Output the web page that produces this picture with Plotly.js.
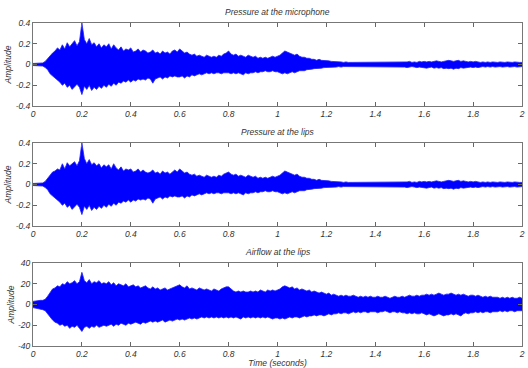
<!DOCTYPE html>
<html>
<head>
<meta charset="utf-8">
<script src="https://cdn.plot.ly/plotly-3.0.1.min.js"></script>
<style>html,body{margin:0;padding:0;background:#fff}#chart{width:528px;height:368px}</style>
</head>
<body>
<div id="chart"></div>
<script>
// Sample spacing of the envelope readings (seconds)
const timeStep = 0.01;

// Pressure at the microphone: upper / lower envelope, t = 0.00 ... 2.00 s
const micUpper = [
0.01,0.01,0.01,0.01,0.015,0.03,0.06,0.09,0.11,0.13,
0.16,0.14,0.19,0.15,0.21,0.17,0.2,0.23,0.18,0.22,
0.4,0.24,0.2,0.25,0.19,0.21,0.17,0.2,0.16,0.19,
0.17,0.2,0.15,0.19,0.16,0.14,0.17,0.13,0.15,0.14,
0.16,0.12,0.13,0.15,0.12,0.14,0.13,0.11,0.12,0.14,
0.11,0.12,0.1,0.13,0.11,0.12,0.1,0.13,0.14,0.12,
0.15,0.13,0.11,0.12,0.1,0.09,0.1,0.08,0.09,0.08,
0.07,0.09,0.08,0.07,0.08,0.07,0.09,0.08,0.1,0.11,
0.13,0.1,0.09,0.1,0.08,0.09,0.08,0.07,0.09,0.08,
0.07,0.08,0.06,0.07,0.06,0.07,0.06,0.07,0.08,0.07,
0.08,0.09,0.11,0.13,0.12,0.11,0.1,0.09,0.1,0.08,
0.07,0.07,0.06,0.06,0.05,0.05,0.04,0.05,0.04,0.04,
0.04,0.035,0.03,0.03,0.025,0.03,0.025,0.02,0.025,0.02,
0.02,0.025,0.02,0.02,0.025,0.02,0.02,0.025,0.02,0.02,
0.02,0.02,0.025,0.02,0.02,0.025,0.02,0.02,0.025,0.02,
0.025,0.02,0.02,0.025,0.03,0.02,0.025,0.02,0.03,0.025,
0.03,0.025,0.03,0.025,0.03,0.035,0.03,0.025,0.03,0.035,
0.04,0.035,0.03,0.035,0.04,0.03,0.035,0.03,0.025,0.03,
0.025,0.03,0.025,0.02,0.025,0.02,0.025,0.02,0.025,0.02,
0.02,0.025,0.02,0.02,0.025,0.02,0.02,0.025,0.02,0.02,
0.02];
const micLower = [
-0.01,-0.01,-0.01,-0.01,-0.015,-0.03,-0.05,-0.09,-0.11,-0.13,
-0.15,-0.17,-0.2,-0.18,-0.22,-0.2,-0.24,-0.21,-0.19,-0.22,
-0.29,-0.21,-0.24,-0.2,-0.25,-0.22,-0.24,-0.21,-0.23,-0.2,
-0.22,-0.19,-0.21,-0.18,-0.2,-0.17,-0.18,-0.16,-0.17,-0.15,
-0.17,-0.15,-0.16,-0.14,-0.15,-0.14,-0.15,-0.13,-0.14,-0.18,
-0.14,-0.13,-0.12,-0.14,-0.12,-0.13,-0.11,-0.12,-0.11,-0.12,
-0.12,-0.11,-0.13,-0.11,-0.12,-0.1,-0.11,-0.1,-0.09,-0.1,
-0.09,-0.08,-0.09,-0.08,-0.09,-0.08,-0.08,-0.09,-0.08,-0.08,
-0.08,-0.09,-0.08,-0.09,-0.08,-0.09,-0.1,-0.08,-0.09,-0.08,
-0.08,-0.07,-0.08,-0.07,-0.07,-0.06,-0.07,-0.07,-0.06,-0.07,
-0.07,-0.08,-0.09,-0.08,-0.09,-0.08,-0.07,-0.08,-0.07,-0.06,
-0.06,-0.06,-0.05,-0.05,-0.045,-0.04,-0.04,-0.035,-0.035,-0.03,
-0.03,-0.03,-0.025,-0.025,-0.025,-0.02,-0.025,-0.02,-0.02,-0.025,
-0.02,-0.02,-0.025,-0.02,-0.02,-0.025,-0.02,-0.02,-0.025,-0.02,
-0.02,-0.025,-0.02,-0.02,-0.025,-0.02,-0.02,-0.025,-0.02,-0.02,
-0.025,-0.02,-0.025,-0.03,-0.025,-0.02,-0.025,-0.03,-0.025,-0.03,
-0.03,-0.035,-0.03,-0.025,-0.035,-0.03,-0.035,-0.03,-0.04,-0.035,
-0.04,-0.035,-0.045,-0.035,-0.04,-0.03,-0.035,-0.03,-0.03,-0.025,
-0.03,-0.025,-0.03,-0.025,-0.02,-0.025,-0.02,-0.025,-0.02,-0.025,
-0.02,-0.02,-0.025,-0.02,-0.02,-0.025,-0.02,-0.02,-0.025,-0.02,
-0.02];

// Pressure at the lips
const lipsUpper = [
0.01,0.01,0.01,0.01,0.015,0.03,0.06,0.09,0.12,0.13,
0.15,0.14,0.2,0.15,0.21,0.18,0.2,0.22,0.18,0.23,
0.4,0.25,0.2,0.24,0.19,0.21,0.18,0.2,0.16,0.19,
0.17,0.19,0.15,0.2,0.16,0.14,0.17,0.13,0.15,0.14,
0.15,0.12,0.13,0.15,0.12,0.14,0.12,0.11,0.12,0.14,
0.11,0.12,0.1,0.13,0.11,0.12,0.1,0.12,0.14,0.12,
0.15,0.13,0.11,0.12,0.1,0.09,0.1,0.08,0.09,0.08,
0.07,0.09,0.08,0.07,0.08,0.07,0.09,0.08,0.1,0.11,
0.12,0.1,0.09,0.1,0.08,0.09,0.08,0.07,0.09,0.08,
0.07,0.08,0.06,0.07,0.06,0.07,0.06,0.07,0.08,0.07,
0.08,0.09,0.11,0.13,0.12,0.11,0.1,0.09,0.1,0.08,
0.07,0.07,0.06,0.06,0.05,0.05,0.04,0.05,0.04,0.04,
0.04,0.035,0.03,0.03,0.025,0.03,0.025,0.02,0.025,0.02,
0.02,0.025,0.02,0.02,0.025,0.02,0.02,0.025,0.02,0.02,
0.02,0.02,0.025,0.02,0.02,0.025,0.02,0.02,0.025,0.02,
0.025,0.02,0.02,0.025,0.03,0.02,0.025,0.02,0.03,0.025,
0.03,0.025,0.03,0.025,0.03,0.035,0.03,0.025,0.03,0.035,
0.04,0.035,0.03,0.035,0.04,0.03,0.035,0.03,0.025,0.03,
0.025,0.03,0.025,0.02,0.025,0.02,0.025,0.02,0.025,0.02,
0.02,0.025,0.02,0.02,0.025,0.02,0.02,0.025,0.02,0.02,
0.02];
const lipsLower = [
-0.01,-0.01,-0.01,-0.01,-0.015,-0.03,-0.05,-0.09,-0.11,-0.13,
-0.15,-0.17,-0.2,-0.18,-0.22,-0.2,-0.24,-0.21,-0.19,-0.22,
-0.29,-0.21,-0.24,-0.2,-0.25,-0.22,-0.24,-0.21,-0.23,-0.2,
-0.22,-0.19,-0.21,-0.18,-0.2,-0.17,-0.18,-0.16,-0.17,-0.15,
-0.17,-0.15,-0.16,-0.14,-0.15,-0.14,-0.15,-0.13,-0.14,-0.18,
-0.14,-0.13,-0.12,-0.14,-0.12,-0.13,-0.11,-0.12,-0.11,-0.12,
-0.12,-0.11,-0.13,-0.11,-0.12,-0.1,-0.11,-0.1,-0.09,-0.1,
-0.09,-0.08,-0.09,-0.08,-0.09,-0.08,-0.08,-0.09,-0.08,-0.08,
-0.08,-0.09,-0.08,-0.09,-0.08,-0.09,-0.1,-0.08,-0.09,-0.08,
-0.08,-0.07,-0.08,-0.07,-0.07,-0.06,-0.07,-0.07,-0.06,-0.07,
-0.07,-0.08,-0.09,-0.08,-0.09,-0.08,-0.07,-0.08,-0.07,-0.06,
-0.06,-0.06,-0.05,-0.05,-0.045,-0.04,-0.04,-0.035,-0.035,-0.03,
-0.03,-0.03,-0.025,-0.025,-0.025,-0.02,-0.025,-0.02,-0.02,-0.025,
-0.02,-0.02,-0.025,-0.02,-0.02,-0.025,-0.02,-0.02,-0.025,-0.02,
-0.02,-0.025,-0.02,-0.02,-0.025,-0.02,-0.02,-0.025,-0.02,-0.02,
-0.025,-0.02,-0.025,-0.03,-0.025,-0.02,-0.025,-0.03,-0.025,-0.03,
-0.03,-0.035,-0.03,-0.025,-0.035,-0.03,-0.035,-0.03,-0.04,-0.035,
-0.04,-0.035,-0.045,-0.035,-0.04,-0.03,-0.035,-0.03,-0.03,-0.025,
-0.03,-0.025,-0.03,-0.025,-0.02,-0.025,-0.02,-0.025,-0.02,-0.025,
-0.02,-0.02,-0.025,-0.02,-0.02,-0.025,-0.02,-0.02,-0.025,-0.02,
-0.02];

// Airflow at the lips
const flowUpper = [
3,3.5,4,4,4,5,8,12,15,16,
18,17,20,19,22,20,21,23,20,22,
31,23,21,24,20,22,21,23,20,21,
20,22,19,21,18,20,19,18,20,17,
18,19,17,18,16,17,18,16,15,17,
15,16,14,15,16,14,15,16,17,18,
19,17,16,18,15,16,15,14,16,15,
14,15,14,13,15,14,13,15,16,17,
17,15,13,12,13,12,13,12,12,13,
12,13,12,14,13,12,14,13,14,13,
14,15,17,18,17,16,17,15,16,14,
15,14,13,14,12,13,12,11,12,11,
10,11,9,10,9,8,9,8,9,8,
8,9,8,7,8,7,8,7,8,7,
7,8,7,7,8,7,6,7,8,7,
7,8,7,8,9,8,8,9,8,9,
9,10,9,10,9,10,11,10,9,10,
10,11,10,9,10,9,10,9,8,9,
9,8,9,8,7,8,7,8,7,7,
7,6,7,6,7,6,7,6,6,7,
6];
const flowLower = [
-3,-3.5,-4,-4,-5,-6,-9,-13,-15,-17,
-18,-20,-19,-21,-20,-23,-21,-22,-20,-23,
-26,-22,-21,-23,-21,-22,-20,-22,-21,-20,
-21,-20,-19,-21,-19,-20,-18,-19,-20,-18,
-19,-18,-17,-18,-19,-17,-18,-17,-16,-17,
-16,-17,-16,-15,-17,-16,-15,-16,-15,-14,
-15,-14,-15,-14,-13,-14,-13,-14,-13,-12,
-13,-12,-13,-12,-13,-12,-13,-12,-13,-12,
-13,-12,-13,-12,-13,-14,-12,-13,-12,-13,
-12,-13,-12,-13,-12,-13,-12,-13,-14,-13,
-13,-14,-13,-14,-13,-12,-13,-12,-12,-13,
-12,-11,-12,-11,-11,-10,-11,-10,-10,-11,
-10,-9,-10,-9,-9,-8,-9,-8,-8,-9,
-8,-7,-8,-7,-8,-7,-7,-8,-7,-7,
-7,-8,-7,-7,-6,-7,-8,-7,-7,-8,
-7,-8,-8,-9,-8,-9,-8,-9,-9,-8,
-9,-10,-9,-10,-11,-10,-9,-10,-11,-10,
-10,-9,-10,-9,-10,-11,-9,-8,-9,-8,
-8,-7,-8,-7,-8,-7,-7,-8,-7,-7,
-7,-6,-7,-6,-7,-6,-6,-7,-6,-6,
-6];

const panelTitles = ['Pressure at the microphone', 'Pressure at the lips', 'Airflow at the lips'];
const xTickVals = [0, 0.2, 0.4, 0.6, 0.8, 1, 1.2, 1.4, 1.6, 1.8, 2];
const xTickText = ['0', '0.2', '0.4', '0.6', '0.8', '1', '1.2', '1.4', '1.6', '1.8', '2'];
const pTickVals = [-0.4, -0.2, 0, 0.2, 0.4];
const pTickText = ['-0.4', '-0.2', '0', '0.2', '0.4'];
const fTickVals = [-40, -20, 0, 20, 40];
const fTickText = ['-40', '-20', '0', '20', '40'];
const yLabel = 'Amplitude';
const xLabel = 'Time (seconds)';

const time = micUpper.map((_, i) => +(i * timeStep).toFixed(2));
const blue = '#0000ff';

function band(upper, lower, xa, ya) {
  return [
    {x: time, y: upper, xaxis: xa, yaxis: ya, type: 'scatter', mode: 'lines',
     line: {color: '#2020ff', width: 0.8}, hoverinfo: 'skip', showlegend: false},
    {x: time, y: lower, xaxis: xa, yaxis: ya, type: 'scatter', mode: 'lines',
     line: {color: '#2020ff', width: 0.8}, fill: 'tonexty', fillcolor: blue,
     hoverinfo: 'skip', showlegend: false}
  ];
}

const data = [].concat(
  band(micUpper, micLower, 'x', 'y'),
  band(lipsUpper, lipsLower, 'x2', 'y2'),
  band(flowUpper, flowLower, 'x3', 'y3')
);

const H = 368;
const tickFont = {family: 'Liberation Sans, Arial, sans-serif', size: 8.5, color: '#333', style: 'italic'};
function xAxis(anchor, withTitle) {
  const a = {
    anchor: anchor, domain: [0, 1], range: [0, 2],
    tickmode: 'array', tickvals: xTickVals, ticktext: xTickText,
    ticks: 'inside', ticklen: 4, tickcolor: '#666', tickwidth: 1,
    showline: true, linecolor: '#777', linewidth: 1, mirror: 'ticks',
    showgrid: false, zeroline: false, tickfont: tickFont
  };
  if (withTitle) a.title = {text: xLabel, font: tickFont, standoff: 7};
  return a;
}
function yAxis(anchor, top, bottom, range, vals, text) {
  return {
    anchor: anchor, domain: [(H - bottom) / H, (H - top) / H], range: range,
    tickmode: 'array', tickvals: vals, ticktext: text,
    ticks: 'inside', ticklen: 4, tickcolor: '#666', tickwidth: 1,
    showline: true, linecolor: '#777', linewidth: 1, mirror: 'ticks',
    showgrid: false, zeroline: false, tickfont: tickFont,
    title: {text: yLabel, font: tickFont, standoff: 2}
  };
}

const panelTops = [23, 143, 263];
const layout = {
  width: 528, height: 368,
  margin: {l: 33, r: 6, t: 0, b: 0},
  paper_bgcolor: '#fff', plot_bgcolor: '#fff',
  showlegend: false,
  xaxis: xAxis('y', false),
  xaxis2: xAxis('y2', false),
  xaxis3: xAxis('y3', true),
  yaxis: yAxis('x', 23, 106, [-0.4, 0.4], pTickVals, pTickText),
  yaxis2: yAxis('x2', 143, 226, [-0.4, 0.4], pTickVals, pTickText),
  yaxis3: yAxis('x3', 263, 346, [-40, 40], fTickVals, fTickText),
  annotations: panelTitles.map((t, i) => ({
    text: t, xref: 'paper', yref: 'paper', x: 0.5, y: (H - panelTops[i] + 4) / H,
    xanchor: 'center', yanchor: 'bottom', showarrow: false, font: tickFont
  }))
};

Plotly.newPlot('chart', data, layout, {staticPlot: true, displayModeBar: false});
</script>
</body>
</html>
